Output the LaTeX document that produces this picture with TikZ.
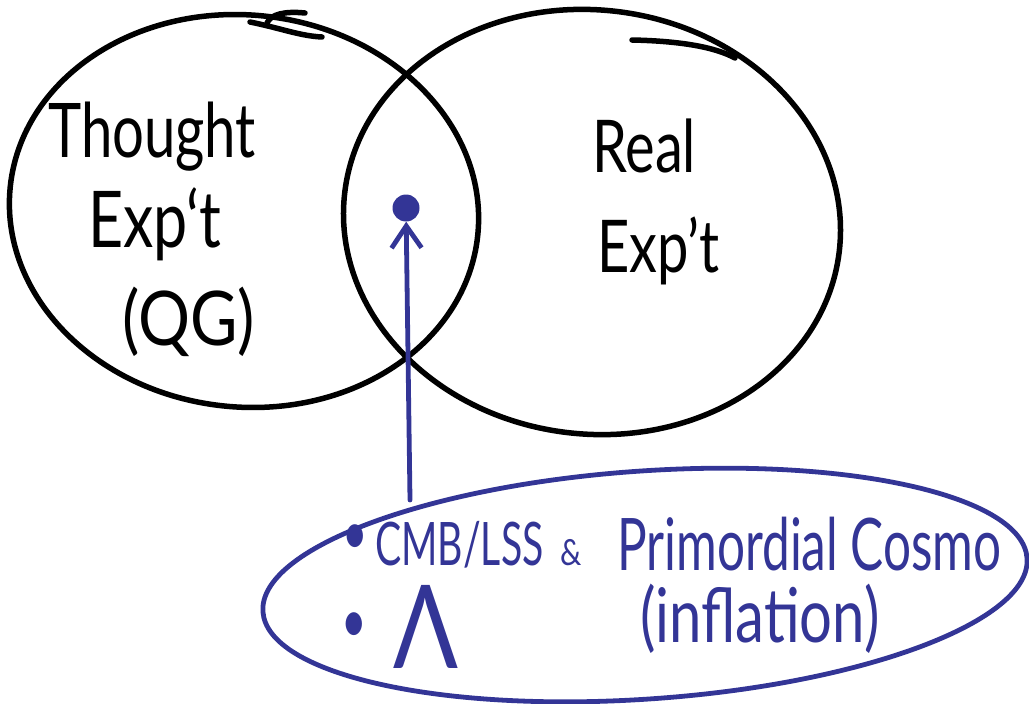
\documentclass[tikz,border=0pt]{standalone}
\usepackage{fontspec}
\usepackage{graphicx}
\setmainfont{Lato}
\usetikzlibrary{arrows.meta}
\definecolor{pen}{RGB}{51,53,150}
\newcommand{\hand}[4]{{\fontsize{#1}{#1}\selectfont\scalebox{#2}[#3]{#4}}}
\begin{document}
\begin{tikzpicture}[x=1pt,y=-1pt, line cap=round, line join=round,
  blk/.style={line width=5.5pt, draw=black},
  blu/.style={line width=4.8pt, draw=pen},
  lbl/.style={inner sep=0pt, anchor=base west},
  bl/.style={text=pen, inner sep=0pt, anchor=base west}]
\useasboundingbox (0,0) rectangle (1029,704);
% Venn circles
\draw[blk, rotate around={-6:(244,211)}] (244,211) ellipse [x radius=235, y radius=196];
\draw[blk, rotate around={-7:(592,222)}] (592,222) ellipse [x radius=249, y radius=212];
% pen flourishes
\draw[blk] (267,23) .. controls (271,14) and (285,11) .. (305,13);
\draw[blk] (250,22) .. controls (280,28) and (300,36) .. (322,37);
\draw[blk] (632,40) .. controls (680,41) and (715,47) .. (735,58);
% blue region
\draw[blu, rotate around={4:(645,585)}] (645,585) ellipse [x radius=383, y radius=114];
% dot and arrow
\node[circle, fill=pen, minimum width=24pt, minimum height=27pt, inner sep=0pt] (dot) at (406,208) {};
\coordinate (src) at (410,500);
\draw[blu, -{Straight Barb[length=22pt,width=30pt]}] (src) -- (dot);
% labels
\node[lbl] (thought) at (48,157) {\hand{58}{0.97}{1.3}{Thought}};
\node[lbl] (exp1) at (88,247) {\hand{58}{1.05}{1.35}{Exp‘t}};
\node[lbl] (qg) at (122,345) {\hand{58}{1.12}{1.3}{(QG)}};
\node[lbl] (real) at (592,172) {\hand{56}{1.0}{1.3}{Real}};
\node[lbl] (exp2) at (597,272) {\hand{56}{1.0}{1.3}{Exp’t}};
\node[bl] (cmb) at (375,565) {\hand{40}{0.98}{1.5}{CMB/LSS}};
\node[bl] (amp) at (560,565) {\hand{30}{1.0}{1.2}{\&}};
\node[bl] (prim) at (617,570) {\hand{50}{0.99}{1.45}{Primordial Cosmo}};
\node[bl] (infl) at (640,642) {\hand{58}{1.0}{1.3}{(inflation)}};
\node[text=pen, inner sep=0pt] (bul1) at (355,540) {\hand{44}{1}{1.4}{•}};
\node[text=pen, inner sep=0pt] (bul2) at (354,628) {\hand{44}{1}{1.4}{•}};
\node[bl] (lam) at (393,668) {\hand{80}{1.2}{1.45}{Λ}};
\end{tikzpicture}
\end{document}
